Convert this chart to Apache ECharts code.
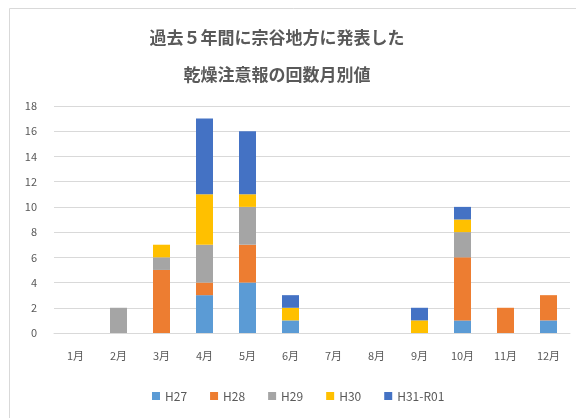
<!DOCTYPE html>
<html><head><meta charset="utf-8">
<script src="https://cdn.jsdelivr.net/npm/echarts@6/dist/echarts.min.js"></script>
<style>html,body{margin:0;padding:0;background:#fff}#c{width:576px;height:418px}</style>
</head><body><div id="c"></div>
<script>
const titleLines = ['過去５年間に宗谷地方に発表した', '乾燥注意報の回数月別値'];
const months = ['1月','2月','3月','4月','5月','6月','7月','8月','9月','10月','11月','12月'];
const seriesNames = ['H27','H28','H29','H30','H31-R01'];
const H27 = [0,0,0,3,4,1,0,0,0,1,0,1];
const H28 = [0,0,5,1,3,0,0,0,0,5,2,2];
const H29 = [0,2,1,3,3,0,0,0,0,2,0,0];
const H30 = [0,0,1,4,1,1,0,0,1,1,0,0];
const H31R01 = [0,0,0,6,5,1,0,0,1,1,0,0];
const yTicks = [0,2,4,6,8,10,12,14,16,18];
const colors = ['#5B9BD5','#ED7D31','#A5A5A5','#FFC000','#4472C4'];
const values = [H27,H28,H29,H30,H31R01];

const font = '"Noto Sans CJK JP", "Noto Sans", sans-serif';
const chart = echarts.init(document.getElementById('c'), null, {renderer:'canvas'});
chart.setOption({
  animation:false,
  backgroundColor:'#fff',
  color: colors,
  graphic:[{type:'rect', shape:{x:9.5,y:8.5,width:600,height:450}, style:{fill:'none', stroke:'#d9d9d9', lineWidth:1}, z:-10}],
  title:{
    text: titleLines.join('\n'), left: 272, top: 14, textAlign:'center',
    textStyle:{fontFamily:font, fontSize:17, fontWeight:'bold', color:'#595959', lineHeight:37}
  },
  legend:{
    data: seriesNames, bottom: 11, left:147, itemWidth:8, itemHeight:8, itemGap:23, icon:'rect',
    textStyle:{fontFamily:font, fontSize:12, color:'#595959'}
  },
  grid:{left:54, right:6, top:106, bottom:85, containLabel:false},
  xAxis:{
    type:'category', data: months,
    axisLine:{lineStyle:{color:'#d9d9d9'}}, axisTick:{show:false},
    axisLabel:{fontFamily:font, fontSize:11, color:'#595959', margin:17}
  },
  yAxis:{
    type:'value', min:0, max:18, interval:2,
    axisLine:{show:false}, axisTick:{show:false},
    splitLine:{lineStyle:{color:'#d9d9d9'}},
    axisLabel:{fontFamily:font, fontSize:11, color:'#595959', margin:17,
      formatter: v => yTicks.includes(v) ? String(v) : ''}
  },
  series: seriesNames.map((n,i)=>({
    name:n, type:'bar', stack:'total', data: values[i], barWidth:17,
    itemStyle:{color:colors[i]}
  }))
});
</script></body></html>
